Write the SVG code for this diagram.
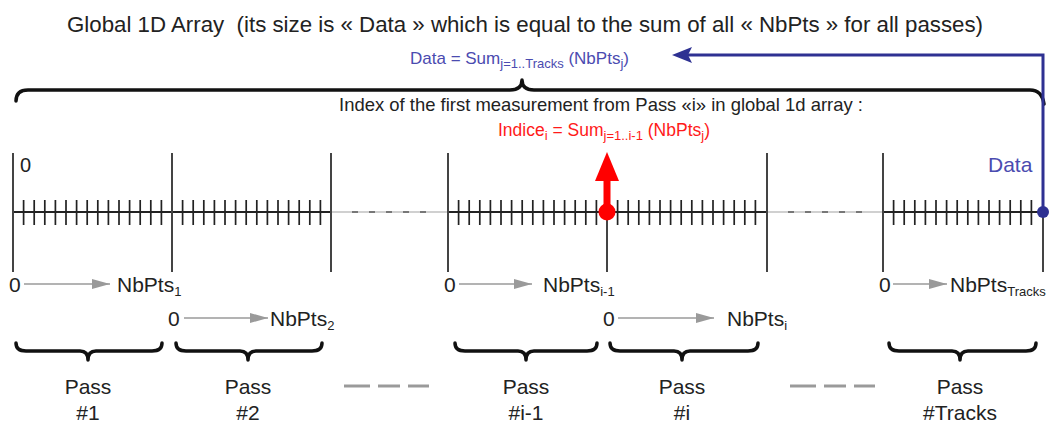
<svg xmlns="http://www.w3.org/2000/svg" width="1056" height="426" viewBox="0 0 1056 426">
<style>
text{font-family:"Liberation Sans",Arial,sans-serif;fill:#222;white-space:pre}
.big{stroke:#444;stroke-width:2;fill:none}
.axis{stroke:#222;stroke-width:2;fill:none}
.tick{stroke:#222;stroke-width:1.7;fill:none}
.brace{stroke:#111;stroke-width:3.5;fill:none;stroke-linecap:round;stroke-linejoin:round}
.garrow{stroke:#9a9a9a;stroke-width:1.6;fill:none}
.lbl{font-size:21px}
.pass{font-size:21px;text-anchor:middle}
.sub{font-size:13px}
.dash{stroke:#9a9a9a;stroke-width:3}
.blue{fill:#4b4bb0}
.red{fill:#ff1a1a}
</style>
<defs>
<marker id="gh" viewBox="0 0 18 10" refX="18" refY="5" markerWidth="18" markerHeight="10" markerUnits="userSpaceOnUse" orient="auto">
<path d="M0,0 L18,5 L0,10 Z" fill="#9a9a9a"/>
</marker>
</defs>

<g id="title">
<text x="67" y="32" font-size="22" textLength="916" lengthAdjust="spacingAndGlyphs">Global 1D Array  (its size is « Data » which is equal to the sum of all « NbPts » for all passes)</text>
<text x="410" y="64" font-size="17" class="blue">Data = Sum<tspan class="sub blue" dy="4">j=1..Tracks</tspan><tspan dy="-4" class="blue"> (NbPts</tspan><tspan class="sub blue" dy="4">j</tspan><tspan dy="-4" class="blue">)</tspan></text>
</g>

<g id="global-brace">
<path class="brace" d="M16,101 Q16,90 28,90 L510,90 Q522,90 522,80 Q522,90 534,90 L1030,90 Q1042,90 1044,104"/>
<text x="339" y="111" font-size="18.5" textLength="524" lengthAdjust="spacingAndGlyphs">Index of the first measurement from Pass «i» in global 1d array :</text>
<text x="498" y="136" font-size="17.5" class="red">Indice<tspan class="sub red" dy="4">i</tspan><tspan dy="-4" class="red"> = Sum</tspan><tspan class="sub red" dy="4">j=1..i-1</tspan><tspan dy="-4" class="red"> (NbPts</tspan><tspan class="sub red" dy="4">j</tspan><tspan dy="-4" class="red">)</tspan></text>
</g>

<g id="array-axis">
<line class="axis" x1="13" y1="212" x2="331" y2="212"/>
<line class="axis" x1="448" y1="212" x2="767" y2="212"/>
<line class="axis" x1="883" y1="212" x2="1043" y2="212"/>
<line x1="331" y1="212" x2="448" y2="212" stroke="#d0d0d0" stroke-width="2"/>
<line x1="767" y1="212" x2="883" y2="212" stroke="#d0d0d0" stroke-width="2"/>
<line x1="352" y1="212" x2="432" y2="212" stroke="#777" stroke-width="2" stroke-dasharray="6,11"/>
<line x1="788" y1="212" x2="868" y2="212" stroke="#777" stroke-width="2" stroke-dasharray="6,11"/>
<path class="tick" d="M23.6,200V225M34.2,200V225M44.8,200V225M55.4,200V225M66,200V225M76.6,200V225M87.2,200V225M97.8,200V225M108.4,200V225M119,200V225M129.6,200V225M140.2,200V225M150.8,200V225M161.4,200V225
M182.6,200V225M193.2,200V225M203.8,200V225M214.4,200V225M225,200V225M235.6,200V225M246.2,200V225M256.8,200V225M267.4,200V225M278,200V225M288.6,200V225M299.2,200V225M309.8,200V225M320.4,200V225
M458.6,200V225M469.2,200V225M479.8,200V225M490.4,200V225M501,200V225M511.6,200V225M522.2,200V225M532.8,200V225M543.4,200V225M554,200V225M564.6,200V225M575.2,200V225M585.8,200V225M596.4,200V225
M617.6,200V225M628.2,200V225M638.8,200V225M649.4,200V225M660,200V225M670.6,200V225M681.2,200V225M691.8,200V225M702.4,200V225M713,200V225M723.6,200V225M734.2,200V225M744.8,200V225M755.4,200V225
M893.6,200V225M904.2,200V225M914.8,200V225M925.4,200V225M936,200V225M946.6,200V225M957.2,200V225M967.8,200V225M978.4,200V225M989,200V225M999.6,200V225M1010.2,200V225M1020.8,200V225M1031.4,200V225"/>
<line class="big" x1="13" y1="153" x2="13" y2="272"/>
<line class="big" x1="172" y1="153" x2="172" y2="272"/>
<line class="big" x1="331" y1="153" x2="331" y2="272"/>
<line class="big" x1="448" y1="153" x2="448" y2="272"/>
<line class="big" x1="607" y1="212" x2="607" y2="272"/>
<line class="big" x1="767" y1="153" x2="767" y2="272"/>
<line class="big" x1="883" y1="153" x2="883" y2="272"/>
<line class="big" x1="1043" y1="212" x2="1043" y2="272"/>
<text x="20" y="172" font-size="20">0</text>
</g>

<g id="indice-marker">
<circle cx="607" cy="212" r="8.5" fill="#ff0000"/>
<rect x="603.5" y="178" width="7" height="34" fill="#ff0000"/>
<polygon points="607,152 619,181 595,181" fill="#ff0000"/>
</g>

<g id="data-marker">
<text x="988" y="172" font-size="21" class="blue">Data</text>
<circle cx="1043" cy="212" r="6" fill="#2e3192"/>
</g>

<g id="connectors">
<path d="M1043,212 V55 H688" stroke="#2e3192" stroke-width="3" fill="none"/>
<polygon points="672,55 692,47 688,55 692,63" fill="#2e3192"/>
<line class="garrow" x1="24" y1="284" x2="110" y2="284" marker-end="url(#gh)"/>
<line class="garrow" x1="184" y1="318" x2="268" y2="318" marker-end="url(#gh)"/>
<line class="garrow" x1="459" y1="284" x2="532" y2="284" marker-end="url(#gh)"/>
<line class="garrow" x1="618" y1="318" x2="714" y2="318" marker-end="url(#gh)"/>
<line class="garrow" x1="893" y1="284" x2="947" y2="284" marker-end="url(#gh)"/>
</g>

<g id="pass-1">
<text class="lbl" x="9" y="292">0</text>
<text class="lbl" x="117" y="292">NbPts<tspan class="sub" dy="4">1</tspan></text>
<path class="brace" d="M16,343 Q16,351 26,351 L80,351 Q88,351 88,360 Q88,351 96,351 L152,351 Q162,351 162,343"/>
<text class="pass" x="88" y="394">Pass</text>
<text class="pass" x="88" y="420">#1</text>
</g>

<g id="pass-2">
<text class="lbl" x="168" y="326">0</text>
<text class="lbl" x="270" y="326">NbPts<tspan class="sub" dy="4">2</tspan></text>
<path class="brace" d="M176,343 Q176,351 186,351 L240,351 Q248,351 248,360 Q248,351 256,351 L312,351 Q322,351 322,343"/>
<text class="pass" x="248" y="394">Pass</text>
<text class="pass" x="248" y="420">#2</text>
</g>

<g id="ellipsis-1">
<line class="dash" x1="344" y1="386" x2="370" y2="386"/>
<line class="dash" x1="378" y1="386" x2="400" y2="386"/>
<line class="dash" x1="408" y1="386" x2="429" y2="386"/>
</g>

<g id="pass-i-1">
<text class="lbl" x="444" y="292">0</text>
<text class="lbl" x="543" y="292">NbPts<tspan class="sub" dy="4">i-1</tspan></text>
<path class="brace" d="M455,343 Q455,351 465,351 L518,351 Q526,351 526,360 Q526,351 534,351 L587,351 Q597,351 597,343"/>
<text class="pass" x="526" y="394">Pass</text>
<text class="pass" x="526" y="420">#i-1</text>
</g>

<g id="pass-i">
<text class="lbl" x="603" y="326">0</text>
<text class="lbl" x="727" y="326">NbPts<tspan class="sub" dy="4">i</tspan></text>
<path class="brace" d="M610,343 Q610,351 620,351 L674,351 Q682,351 682,360 Q682,351 690,351 L748,351 Q758,351 758,343"/>
<text class="pass" x="682" y="394">Pass</text>
<text class="pass" x="682" y="420">#i</text>
</g>

<g id="ellipsis-2">
<line class="dash" x1="790" y1="386" x2="816" y2="386"/>
<line class="dash" x1="824" y1="386" x2="846" y2="386"/>
<line class="dash" x1="854" y1="386" x2="875" y2="386"/>
</g>

<g id="pass-tracks">
<text class="lbl" x="879" y="292">0</text>
<text class="lbl" x="950" y="292">NbPts<tspan class="sub" dy="4">Tracks</tspan></text>
<path class="brace" d="M889,343 Q889,351 899,351 L952,351 Q960,351 960,360 Q960,351 968,351 L1026,351 Q1036,351 1036,343"/>
<text class="pass" x="960" y="394">Pass</text>
<text class="pass" x="960" y="420">#Tracks</text>
</g>
</svg>
